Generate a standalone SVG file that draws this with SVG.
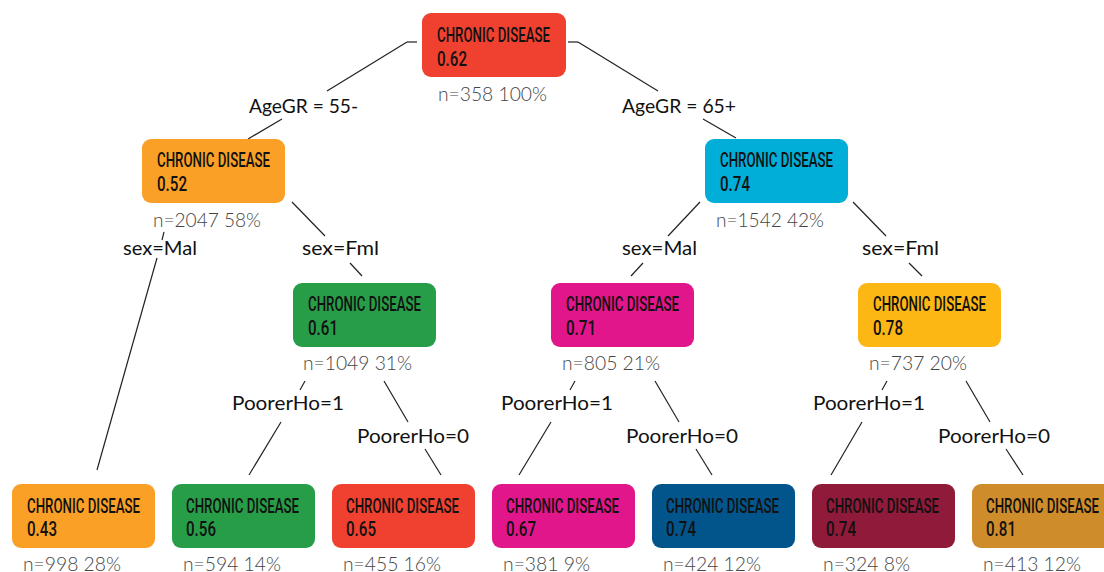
<svg xmlns="http://www.w3.org/2000/svg" width="1104" height="572" viewBox="0 0 1104 572">
<style>
.box{stroke:none}
.t{font-family:Roboto,"Liberation Sans",sans-serif;font-size:21px;font-weight:500;fill:#111}
.n{font-family:Lato,"Liberation Sans",sans-serif;font-size:20px;font-weight:300;fill:#444}
.e{font-family:Lato,"Liberation Sans",sans-serif;font-size:20px;fill:#111}
.c line,.c polyline{stroke:#222;stroke-width:1.2;fill:none}
.c .stub{stroke:#777;stroke-width:2}
</style>
<rect width="1104" height="572" fill="#fff"/>
<g class="c" id="connectors">
<line class="stub" x1="407" y1="42" x2="417" y2="42"/>
<line x1="407" y1="42" x2="327" y2="91"/>
<line x1="282" y1="119" x2="248" y2="139"/>
<line class="stub" x1="568" y1="42" x2="578" y2="42"/>
<line x1="578" y1="42" x2="658" y2="91"/>
<line x1="703" y1="119" x2="736" y2="138"/>
<line x1="164" y1="232" x2="162" y2="240"/>
<line x1="157" y1="258" x2="97" y2="470"/>
<line x1="292" y1="202" x2="325" y2="236"/>
<line x1="350" y1="263" x2="362" y2="276"/>
<line x1="700" y1="202" x2="668" y2="236"/>
<line x1="643" y1="263" x2="631" y2="276"/>
<line x1="853" y1="202" x2="886" y2="236"/>
<line x1="909" y1="263" x2="922" y2="276"/>
<line x1="305" y1="381" x2="300" y2="390"/>
<line x1="281" y1="422" x2="249" y2="475"/>
<line x1="384" y1="381" x2="408" y2="422"/>
<line x1="425" y1="449" x2="441" y2="475"/>
<line x1="575" y1="381" x2="570" y2="390"/>
<line x1="551" y1="422" x2="519" y2="475"/>
<line x1="655" y1="381" x2="679" y2="422"/>
<line x1="696" y1="449" x2="712" y2="475"/>
<line x1="887" y1="381" x2="882" y2="390"/>
<line x1="862" y1="422" x2="831" y2="475"/>
<line x1="966" y1="381" x2="990" y2="422"/>
<line x1="1006" y1="449" x2="1023" y2="475"/>
</g>
<g id="edge-labels">
<text class="e" x="249" y="113" textLength="109" lengthAdjust="spacingAndGlyphs">AgeGR = 55-</text>
<text class="e" x="622" y="113" textLength="114" lengthAdjust="spacingAndGlyphs">AgeGR = 65+</text>
<text class="e" x="123" y="255" textLength="74" lengthAdjust="spacingAndGlyphs">sex=Mal</text>
<text class="e" x="302" y="255" textLength="77" lengthAdjust="spacingAndGlyphs">sex=Fml</text>
<text class="e" x="622" y="255" textLength="75" lengthAdjust="spacingAndGlyphs">sex=Mal</text>
<text class="e" x="862" y="255" textLength="77" lengthAdjust="spacingAndGlyphs">sex=Fml</text>
<text class="e" x="232" y="410" textLength="112" lengthAdjust="spacingAndGlyphs">PoorerHo=1</text>
<text class="e" x="357" y="443" textLength="112" lengthAdjust="spacingAndGlyphs">PoorerHo=0</text>
<text class="e" x="501" y="410" textLength="112" lengthAdjust="spacingAndGlyphs">PoorerHo=1</text>
<text class="e" x="626" y="443" textLength="112" lengthAdjust="spacingAndGlyphs">PoorerHo=0</text>
<text class="e" x="813" y="410" textLength="112" lengthAdjust="spacingAndGlyphs">PoorerHo=1</text>
<text class="e" x="938" y="443" textLength="112" lengthAdjust="spacingAndGlyphs">PoorerHo=0</text>
</g>
<g id="node-root">
<rect class="box" x="422" y="13" width="144" height="64" rx="9" fill="#F04130"/>
<text class="t" x="437" y="42" textLength="113" lengthAdjust="spacingAndGlyphs">CHRONIC DISEASE</text>
<text class="t" x="437" y="66" textLength="30" lengthAdjust="spacingAndGlyphs">0.62</text>
<text class="n" x="438" y="101" textLength="109" lengthAdjust="spacingAndGlyphs">n=358 100%</text>
</g>
<g id="node-l">
<rect class="box" x="142" y="139" width="143" height="64" rx="9" fill="#FBA027"/>
<text class="t" x="157" y="167" textLength="113" lengthAdjust="spacingAndGlyphs">CHRONIC DISEASE</text>
<text class="t" x="157" y="191" textLength="30" lengthAdjust="spacingAndGlyphs">0.52</text>
<text class="n" x="153" y="227" textLength="108" lengthAdjust="spacingAndGlyphs">n=2047 58%</text>
</g>
<g id="node-r">
<rect class="box" x="705" y="139" width="143" height="64" rx="9" fill="#00AED8"/>
<text class="t" x="720" y="167" textLength="113" lengthAdjust="spacingAndGlyphs">CHRONIC DISEASE</text>
<text class="t" x="720" y="191" textLength="30" lengthAdjust="spacingAndGlyphs">0.74</text>
<text class="n" x="716" y="227" textLength="108" lengthAdjust="spacingAndGlyphs">n=1542 42%</text>
</g>
<g id="node-lf">
<rect class="box" x="293" y="283" width="143" height="64" rx="9" fill="#279D48"/>
<text class="t" x="308" y="311" textLength="113" lengthAdjust="spacingAndGlyphs">CHRONIC DISEASE</text>
<text class="t" x="308" y="335" textLength="30" lengthAdjust="spacingAndGlyphs">0.61</text>
<text class="n" x="303" y="370" textLength="109" lengthAdjust="spacingAndGlyphs">n=1049 31%</text>
</g>
<g id="node-rm">
<rect class="box" x="551" y="283" width="143" height="64" rx="9" fill="#E1168A"/>
<text class="t" x="566" y="311" textLength="113" lengthAdjust="spacingAndGlyphs">CHRONIC DISEASE</text>
<text class="t" x="566" y="335" textLength="30" lengthAdjust="spacingAndGlyphs">0.71</text>
<text class="n" x="562" y="370" textLength="98" lengthAdjust="spacingAndGlyphs">n=805 21%</text>
</g>
<g id="node-rf">
<rect class="box" x="858" y="283" width="143" height="64" rx="9" fill="#FDB714"/>
<text class="t" x="873" y="311" textLength="113" lengthAdjust="spacingAndGlyphs">CHRONIC DISEASE</text>
<text class="t" x="873" y="335" textLength="30" lengthAdjust="spacingAndGlyphs">0.78</text>
<text class="n" x="869" y="370" textLength="98" lengthAdjust="spacingAndGlyphs">n=737 20%</text>
</g>
<g id="leaf-1">
<rect class="box" x="12" y="484" width="143" height="64" rx="9" fill="#FBA027"/>
<text class="t" x="27" y="513" textLength="113" lengthAdjust="spacingAndGlyphs">CHRONIC DISEASE</text>
<text class="t" x="27" y="536" textLength="30" lengthAdjust="spacingAndGlyphs">0.43</text>
<text class="n" x="23" y="571" textLength="98" lengthAdjust="spacingAndGlyphs">n=998 28%</text>
</g>
<g id="leaf-2">
<rect class="box" x="172" y="484" width="143" height="64" rx="9" fill="#279D48"/>
<text class="t" x="186" y="513" textLength="113" lengthAdjust="spacingAndGlyphs">CHRONIC DISEASE</text>
<text class="t" x="186" y="536" textLength="30" lengthAdjust="spacingAndGlyphs">0.56</text>
<text class="n" x="183" y="571" textLength="98" lengthAdjust="spacingAndGlyphs">n=594 14%</text>
</g>
<g id="leaf-3">
<rect class="box" x="332" y="484" width="143" height="64" rx="9" fill="#F04130"/>
<text class="t" x="346" y="513" textLength="113" lengthAdjust="spacingAndGlyphs">CHRONIC DISEASE</text>
<text class="t" x="346" y="536" textLength="30" lengthAdjust="spacingAndGlyphs">0.65</text>
<text class="n" x="343" y="571" textLength="98" lengthAdjust="spacingAndGlyphs">n=455 16%</text>
</g>
<g id="leaf-4">
<rect class="box" x="492" y="484" width="143" height="64" rx="9" fill="#E1168A"/>
<text class="t" x="506" y="513" textLength="113" lengthAdjust="spacingAndGlyphs">CHRONIC DISEASE</text>
<text class="t" x="506" y="536" textLength="30" lengthAdjust="spacingAndGlyphs">0.67</text>
<text class="n" x="503" y="571" textLength="87" lengthAdjust="spacingAndGlyphs">n=381 9%</text>
</g>
<g id="leaf-5">
<rect class="box" x="652" y="484" width="143" height="64" rx="9" fill="#02558B"/>
<text class="t" x="666" y="513" textLength="113" lengthAdjust="spacingAndGlyphs">CHRONIC DISEASE</text>
<text class="t" x="666" y="536" textLength="30" lengthAdjust="spacingAndGlyphs">0.74</text>
<text class="n" x="663" y="571" textLength="98" lengthAdjust="spacingAndGlyphs">n=424 12%</text>
</g>
<g id="leaf-6">
<rect class="box" x="812" y="484" width="143" height="64" rx="9" fill="#8F1A39"/>
<text class="t" x="826" y="513" textLength="113" lengthAdjust="spacingAndGlyphs">CHRONIC DISEASE</text>
<text class="t" x="826" y="536" textLength="30" lengthAdjust="spacingAndGlyphs">0.74</text>
<text class="n" x="823" y="571" textLength="87" lengthAdjust="spacingAndGlyphs">n=324 8%</text>
</g>
<g id="leaf-7">
<rect class="box" x="972" y="484" width="143" height="64" rx="9" fill="#CF8C2A"/>
<text class="t" x="986" y="513" textLength="113" lengthAdjust="spacingAndGlyphs">CHRONIC DISEASE</text>
<text class="t" x="986" y="536" textLength="30" lengthAdjust="spacingAndGlyphs">0.81</text>
<text class="n" x="983" y="571" textLength="98" lengthAdjust="spacingAndGlyphs">n=413 12%</text>
</g>
</svg>
